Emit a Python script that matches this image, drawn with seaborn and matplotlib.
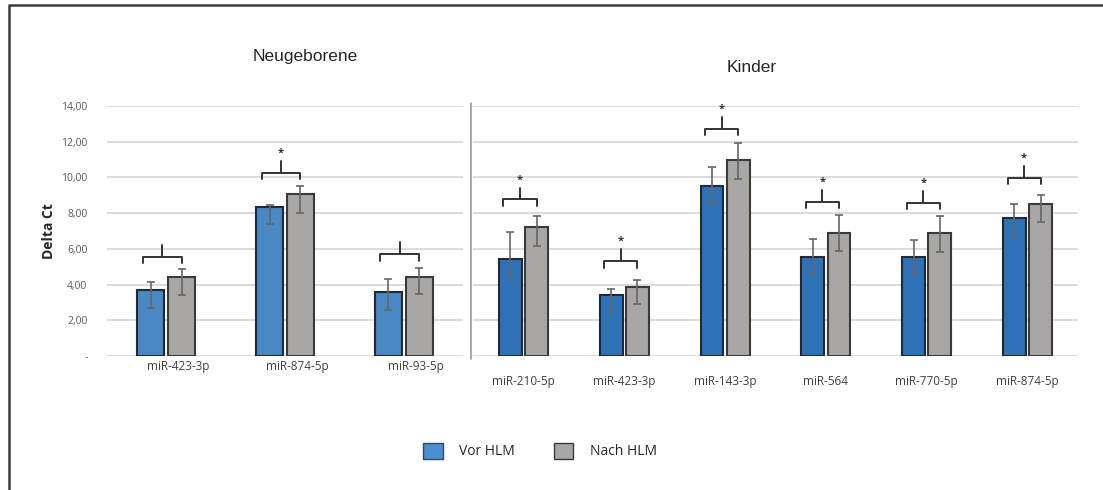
import numpy as np
import pandas as pd
import matplotlib.pyplot as plt
import matplotlib.transforms as mtransforms
from matplotlib.lines import Line2D
from matplotlib.patches import Patch
import seaborn as sns

# ~~~~~~~~~~~~~ Data ~~~~~~~~~~~~~
groups = ['Vor HLM', 'Nach HLM']

neo_mirs = ['miR-423-3p', 'miR-874-5p', 'miR-93-5p']
neo_vor = [3.70, 8.36, 3.60]
neo_vor_lo = [0.99, 0.99, 1.01]   # lower error arm
neo_vor_hi = [0.46, 0.08, 0.69]   # upper error arm
neo_nach = [4.44, 9.05, 4.44]
neo_nach_lo = [1.02, 1.02, 0.99]
neo_nach_hi = [0.43, 0.49, 0.47]
neo_bracket = [5.56, 10.27, 5.71]
neo_star = [False, True, False]

kid_mirs = ['miR-210-5p', 'miR-423-3p', 'miR-143-3p', 'miR-564', 'miR-770-5p', 'miR-874-5p']
kid_vor = [5.42, 3.42, 9.54, 5.56, 5.56, 7.71]
kid_vor_lo = [1.01, 0.99, 0.99, 1.02, 1.02, 1.03]
kid_vor_hi = [1.51, 0.33, 1.03, 0.97, 0.92, 0.80]
kid_nach = [7.21, 3.88, 10.98, 6.91, 6.87, 8.49]
kid_nach_lo = [1.05, 0.99, 1.07, 1.01, 1.03, 1.00]
kid_nach_hi = [0.63, 0.38, 0.93, 1.00, 0.99, 0.51]
kid_bracket = [8.77, 5.32, 12.73, 8.64, 8.59, 9.99]
kid_star = [True, True, True, True, True, True]

W, H = 1103, 490
sns.set_style('white')
plt.rcParams['font.family'] = ['Open Sans', 'DejaVu Sans']

fig = plt.figure(figsize=(W / 100, H / 100), dpi=100)


def px_axes(x0, x1, y0, y1):
    return fig.add_axes([x0 / W, 1 - y1 / H, (x1 - x0) / W, (y1 - y0) / H])


ax_neo = px_axes(107, 463, 106, 356)
ax_kid = px_axes(473, 1078, 106, 356)


def draw_panel(ax, mirs, vor, vor_lo, vor_hi, nach, nach_lo, nach_hi, bracket, star, vor_color):
    df = pd.DataFrame({
        'miR': mirs * 2,
        'group': [groups[0]] * len(mirs) + [groups[1]] * len(mirs),
        'dct': vor + nach,
    })
    sns.barplot(data=df, x='miR', y='dct', hue='group', hue_order=groups,
                palette=[vor_color, '#a9a6a6'], saturation=1, width=0.52, gap=0.13,
                errorbar=None, edgecolor='#1f2a36', linewidth=1.5,
                legend=False, ax=ax, zorder=3)
    for cont, lo, hi in zip(ax.containers, [vor_lo, nach_lo], [vor_hi, nach_hi]):
        xs = [p.get_x() + p.get_width() / 2 for p in cont]
        ys = [p.get_height() for p in cont]
        ax.errorbar(xs, ys, yerr=[lo, hi], fmt='none', ecolor='#666666',
                    elinewidth=1.2, capsize=3, capthick=1.2, zorder=4)
    for p in ax.containers[1]:
        p.set_edgecolor('#3a3a3a')
    # significance brackets
    bw = ax.containers[0][0].get_width()
    xv = [p.get_x() + p.get_width() / 2 - 0.3 * bw for p in ax.containers[0]]
    xn = [p.get_x() + p.get_width() / 2 for p in ax.containers[1]]
    for a, b, yb, s in zip(xv, xn, bracket, star):
        ax.plot([a, a, b, b], [yb - 0.37, yb, yb, yb - 0.37], color='#333333', lw=1.4,
                solid_joinstyle='round', zorder=5)
        m = (a + b) / 2
        ax.plot([m, m], [yb, yb + 0.66], color='#333333', lw=1.4, zorder=5)
        if s:
            ax.text(m, yb + 0.78, '*', ha='center', va='bottom', fontsize=8,
                    fontweight='bold', color='#333333')

    ax.set_ylim(0, 14)
    ax.set_xlim(-0.5, len(mirs) - 0.5)
    ax.set_yticks(np.arange(0, 15, 2))
    ax.yaxis.grid(True, color='#d9d9d9', lw=1.3, zorder=0)
    ax.set_axisbelow(True)
    for s in ax.spines.values():
        s.set_visible(False)
    ax.tick_params(axis='both', length=0, labelsize=8.5, labelcolor='#404040')
    ax.set_xlabel('')
    ax.set_ylabel('')


draw_panel(ax_neo, neo_mirs, neo_vor, neo_vor_lo, neo_vor_hi, neo_nach, neo_nach_lo,
           neo_nach_hi, neo_bracket, neo_star, '#4a87c5')
draw_panel(ax_kid, kid_mirs, kid_vor, kid_vor_lo, kid_vor_hi, kid_nach, kid_nach_lo,
           kid_nach_hi, kid_bracket, kid_star, '#2e71b6')

ax_neo.set_yticklabels(['-' if v == 0 else '{:.2f}'.format(v).replace('.', ',')
                        for v in ax_neo.get_yticks()], color='#595959', fontsize=7.5)
ax_neo.tick_params(axis='y', pad=14)
ax_neo.tick_params(axis='x', pad=3)
shift = mtransforms.ScaledTranslation(12 / 100, 0, fig.dpi_scale_trans)
for lab in ax_neo.get_xticklabels():
    lab.set_transform(lab.get_transform() + shift)
ax_kid.set_yticklabels([])
ax_kid.tick_params(axis='x', pad=14)
ax_neo.set_ylabel('Delta Ct', fontsize=10, fontweight='bold', labelpad=4)

# titles
cond = ['Liberation Sans Narrow', 'Liberation Sans', 'DejaVu Sans']
fig.text(305 / W, 1 - 57 / H, 'Neugeborene', ha='center', va='center', fontsize=12.5, family=cond)
fig.text(752 / W, 1 - 68 / H, 'Kinder', ha='center', va='center', fontsize=12.5, family=cond)

# divider between panels and outer frame
fig.add_artist(Line2D([471 / W, 471 / W], [1 - 103 / H, 1 - 359 / H], color='#9a9a9a', lw=1.2))
fig.add_artist(Line2D([9 / W, 9 / W, 1], [0, 1 - 5 / H, 1 - 5 / H], color='#3c3c3c', lw=1.8))

# legend
handles = [Patch(facecolor='#4b8fd2', edgecolor='#2d4a66', label=groups[0]),
           Patch(facecolor='#a9a6a6', edgecolor='#3a3a3a', label=groups[1])]
fig.legend(handles=handles, loc='center', bbox_to_anchor=(540 / W, 1 - 451 / H), ncol=2,
           frameon=False, fontsize=10, handlelength=1.4, handleheight=1.4,
           columnspacing=2.8, handletextpad=1.2)

fig.savefig('out.png', dpi=100, facecolor='white')
